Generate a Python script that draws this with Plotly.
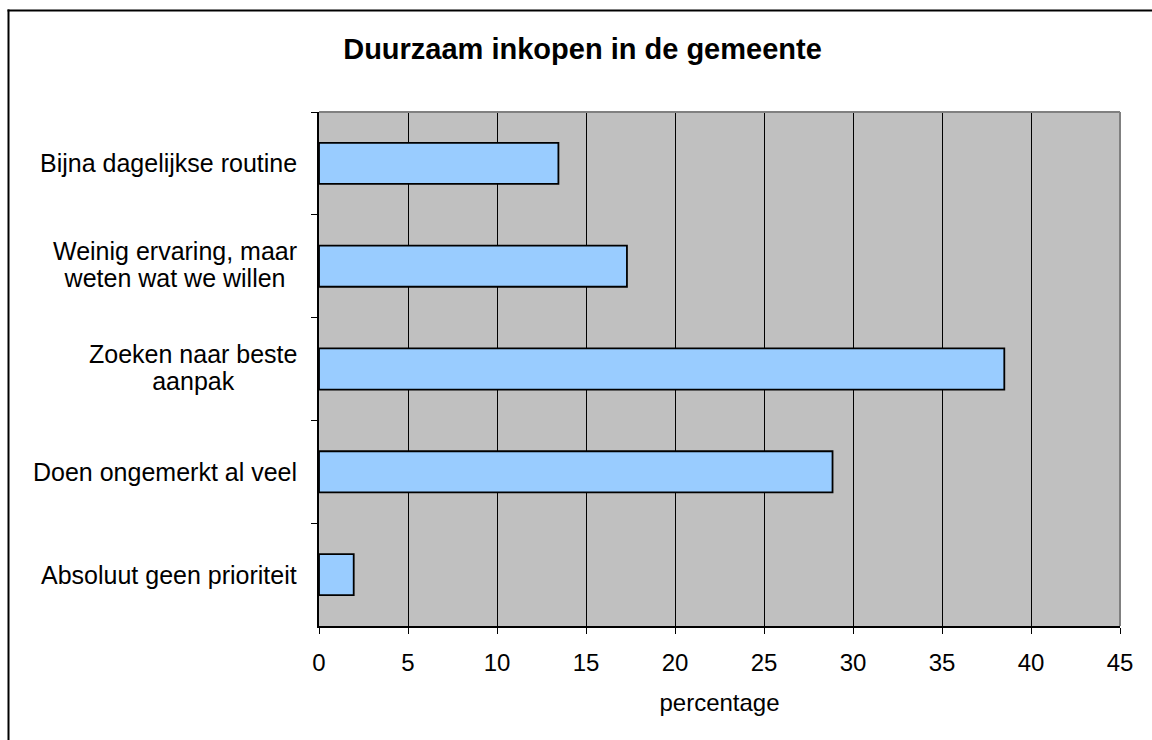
import plotly.graph_objects as go

# ---- data ----
categories = [
    "Bijna dagelijkse routine",
    "Weinig ervaring, maar<br>weten wat we willen",
    "Zoeken naar beste<br>aanpak",
    "Doen ongemerkt al veel",
    "Absoluut geen prioriteit",
]
values = [13.45, 17.3, 38.5, 28.85, 1.95]
x_ticks = [0, 5, 10, 15, 20, 25, 30, 35, 40, 45]
title_text = "Duurzaam inkopen in de gemeente"
x_title = "percentage"

FONT = "Arial, Liberation Sans, sans-serif"
W, H = 1152, 740
ML, MT = 319, 112
PW, PH = 801, 514
MR, MB = W - ML - PW, H - MT - PH


def xp(px):  # page pixel -> paper x
    return (px - ML) / PW


def yp(py):  # page pixel -> paper y
    return (MT + PH - py) / PH


fig = go.Figure(
    go.Bar(
        x=values,
        y=categories,
        orientation="h",
        marker=dict(color="#99CCFF", line=dict(color="#000000", width=1.8)),
        hoverinfo="x+y",
    )
)

LABEL_SIZE = 25
annotations = []
for c in categories:
    lines = c.split("<br>")
    txt = "<br>".join(
        '<span style="font-size:%dpx">%s</span>' % (LABEL_SIZE, ln) for ln in lines
    )
    annotations.append(
        dict(
            text=txt,
            xref="paper",
            yref="y",
            x=xp(299),
            y=c,
            yshift=2 if len(lines) > 1 else 0,
            xanchor="right",
            yanchor="middle",
            align="center",
            showarrow=False,
            font=dict(family=FONT, size=21 if len(lines) > 1 else LABEL_SIZE,
                      color="#000000"),
        )
    )

shapes = [
    # plot-area top/right border (gray)
    dict(type="line", xref="paper", yref="paper", x0=0, x1=1, y0=1, y1=1,
         line=dict(color="#808080", width=2)),
    dict(type="line", xref="paper", yref="paper", x0=1, x1=1, y0=0, y1=1,
         line=dict(color="#808080", width=2)),
    # outer chart frame (top and left edges visible)
    dict(type="line", xref="paper", yref="paper",
         x0=xp(7.5), x1=xp(1200), y0=yp(10.5), y1=yp(10.5),
         line=dict(color="#000000", width=2)),
    dict(type="line", xref="paper", yref="paper",
         x0=xp(8.5), x1=xp(8.5), y0=yp(9.5), y1=yp(800),
         line=dict(color="#000000", width=2)),
]

fig.update_layout(
    width=W,
    height=H,
    margin=dict(l=ML, r=MR, t=MT, b=MB, pad=0, autoexpand=False),
    paper_bgcolor="#FFFFFF",
    plot_bgcolor="#C0C0C0",
    bargap=0.6,
    showlegend=False,
    font=dict(family=FONT, color="#000000"),
    title=dict(
        text="<b>" + title_text + "</b>",
        xref="paper",
        x=xp(582.5),
        xanchor="center",
        yref="container",
        y=1 - 49 / H,
        yanchor="middle",
        font=dict(family=FONT, size=29, color="#000000"),
    ),
    xaxis=dict(
        range=[0, 45],
        tickvals=x_ticks,
        ticktext=[str(t) for t in x_ticks],
        showgrid=True,
        gridcolor="#000000",
        gridwidth=1,
        zeroline=False,
        ticks="outside",
        ticklen=6,
        tickwidth=1,
        tickcolor="#000000",
        showline=True,
        linecolor="#000000",
        linewidth=1.5,
        automargin=False,
        tickfont=dict(family=FONT, size=24, color="#000000"),
        ticklabelstandoff=8,
        title=dict(text=x_title, font=dict(family=FONT, size=24, color="#000000"),
                   standoff=20),
        fixedrange=True,
    ),
    yaxis=dict(
        type="category",
        autorange="reversed",
        showticklabels=False,
        ticks="outside",
        tickson="boundaries",
        ticklen=6,
        tickwidth=1,
        tickcolor="#000000",
        showgrid=False,
        zeroline=False,
        showline=True,
        linecolor="#000000",
        linewidth=1.5,
        automargin=False,
        fixedrange=True,
    ),
    annotations=annotations,
    shapes=shapes,
)

fig.write_html(
    "out.html",
    config={"displayModeBar": False},
    post_script="document.body.style.margin='0';document.body.style.overflow='hidden';",
)
